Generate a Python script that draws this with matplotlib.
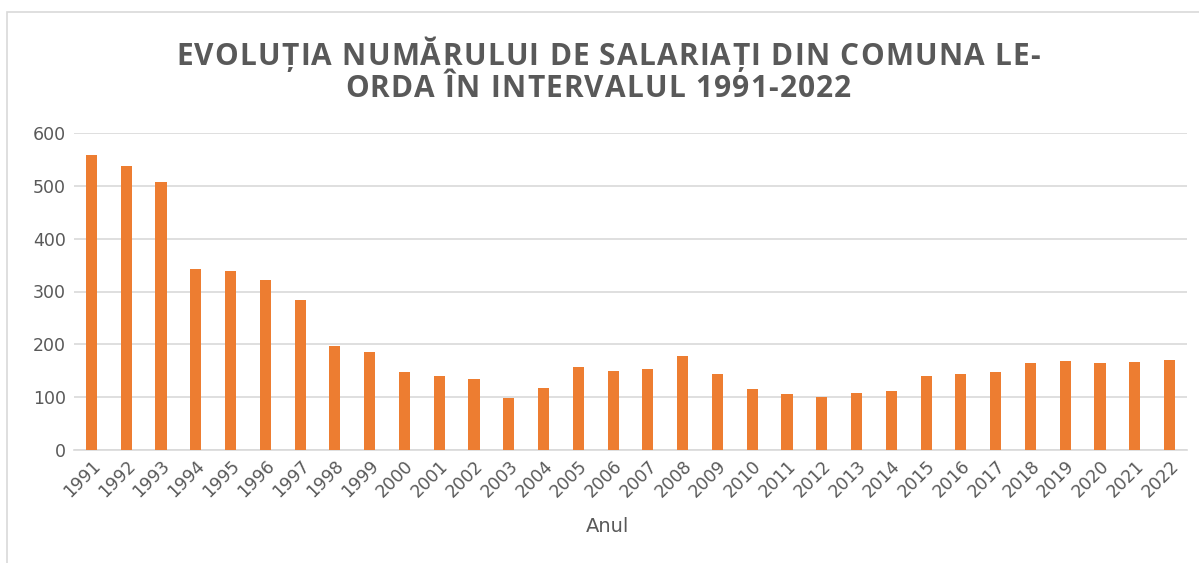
import matplotlib
matplotlib.use('Agg')
import matplotlib.pyplot as plt
from matplotlib import font_manager
from matplotlib.font_manager import FontProperties
from matplotlib.ft2font import FT2Font
from matplotlib.patches import Rectangle

# data
years = [str(y) for y in range(1991, 2023)]
salariati = [559, 538, 508, 343, 339, 322, 284, 197, 186, 148,
             140, 135, 99, 118, 158, 150, 154, 177, 144, 116,
             106, 101, 108, 112, 140, 144, 148, 165, 169, 165,
             167, 171]
yticks = [0, 100, 200, 300, 400, 500, 600]

title_lines = ["EVOLUȚIA NUMĂRULUI DE SALARIAȚI DIN COMUNA LE-",
               "ORDA ÎN INTERVALUL 1991-2022"]

grey = '#595959'
orange = '#ED7D31'
W, H, DPI = 1199, 563, 100

fig = plt.figure(figsize=(W/DPI, H/DPI), dpi=DPI)
ax = fig.add_axes([74/W, 1-450/H, (1187-74)/W, (450-133)/H])

x = list(range(len(years)))
ax.bar(x, salariati, width=0.32, color=orange, zorder=3)

ax.set_xlim(-0.5, len(years) - 0.5)
ax.set_ylim(0, 600)
ax.set_yticks(yticks)
ax.set_xticks(x)
ax.set_xticklabels(years, rotation=45, ha='right', rotation_mode='anchor')
ax.tick_params(axis='both', length=0, colors=grey, labelsize=12.5)
ax.tick_params(axis='x', pad=5)
ax.tick_params(axis='y', pad=6)

ax.grid(axis='y', color='#d9d9d9', linewidth=1.2, zorder=0)
for s in ['top', 'right', 'left']:
    ax.spines[s].set_visible(False)
ax.spines['bottom'].set_color('#d9d9d9')
ax.spines['bottom'].set_linewidth(1.2)

fig.text(608/W, 1-526/H, "Anul", ha='center', va='center',
         color=grey, fontsize=14)

# title with a little letter spacing (Excel style), drawn char by char
tsize = 21.5
tprop = FontProperties(family='Open Sans', weight='bold', size=tsize)
font = FT2Font(font_manager.findfont(tprop))
font.set_size(tsize, DPI)
track = 1.2  # extra px between letters

def draw_spaced(line, cx, baseline):
    adv = [font.load_char(ord(c)).linearHoriAdvance / 65536 for c in line]
    total = sum(adv) + track * (len(line) - 1)
    xpos = cx - total / 2
    for c, a in zip(line, adv):
        fig.text(xpos / W, 1 - baseline / H, c, ha='left', va='baseline',
                 color=grey, fontproperties=tprop)
        xpos += a + track

draw_spaced(title_lines[0], 608, 65)
draw_spaced(title_lines[1], 598, 97)

# chart area border (left and top only visible)
fig.patches.append(Rectangle((7/W, -0.1), 1.2, 1-12/H+0.1,
                             transform=fig.transFigure, fill=False,
                             edgecolor='#d9d9d9', linewidth=1.2))

fig.savefig('out.png', dpi=DPI)
